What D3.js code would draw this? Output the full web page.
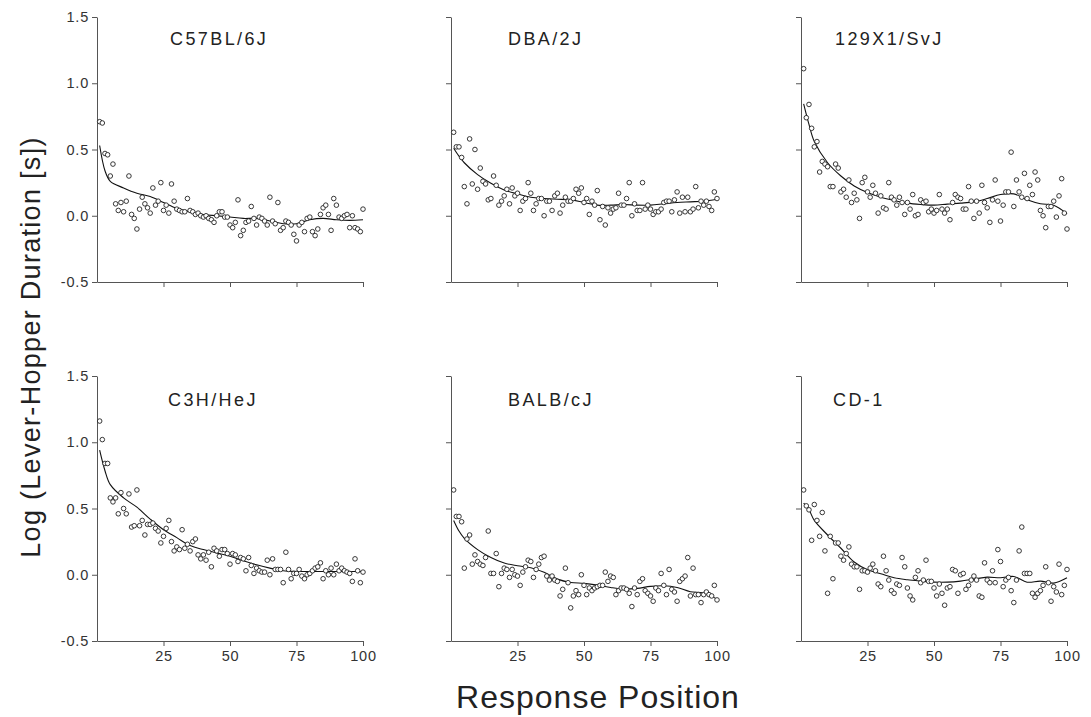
<!DOCTYPE html>
<html>
<head>
<meta charset="utf-8">
<script src="https://cdn.jsdelivr.net/npm/d3@7"></script>
<style>
  body { margin: 0; background: #fff; }
  text { font-family: "Liberation Sans", Arial, sans-serif; }
</style>
</head>
<body>
<div id="chart"></div>
<script>
// strain names, one per panel (row by row)
const strains = ['C57BL/6J', 'DBA/2J', '129X1/SvJ', 'C3H/HeJ', 'BALB/cJ', 'CD-1'];

const yTicks = [-0.5, 0.0, 0.5, 1.0, 1.5];
const xTicks = [25, 50, 75, 100];

// log duration per response position 1..100
const c57 = [0.71,0.70,0.47,0.46,0.30,0.39,0.09,0.04,0.10,0.03, 0.11,0.30,0.01,-0.02,-0.10,0.05,0.14,0.09,0.06,0.02,
  0.21,0.08,0.11,0.25,0.04,0.08,0.02,0.24,0.11,0.05, 0.04,0.03,0.03,0.13,0.04,0.03,0.01,0.02,0.00,-0.01,
  0.00,-0.02,-0.03,-0.05,0.00,0.03,0.03,-0.01,-0.01,-0.07, -0.09,-0.05,0.12,-0.15,-0.11,-0.05,-0.04,0.07,-0.02,-0.07,
  -0.01,-0.02,-0.04,-0.07,0.14,-0.04,-0.06,0.10,-0.11,-0.09, -0.04,-0.05,-0.07,-0.14,-0.19,-0.07,-0.05,-0.12,-0.02,-0.01,
  -0.12,-0.15,-0.10,0.01,0.06,0.08,0.01,-0.11,0.13,0.08, -0.01,-0.02,0.00,0.01,-0.09,0.00,-0.09,-0.10,-0.12,0.05];

const dba = [0.63,0.52,0.52,0.44,0.22,0.09,0.58,0.24,0.50,0.20, 0.36,0.26,0.24,0.12,0.13,0.30,0.23,0.08,0.11,0.15,
  0.20,0.09,0.21,0.15,0.17,0.04,0.11,0.13,0.25,0.17, 0.04,0.09,0.13,0.13,0.00,0.11,0.11,0.04,0.15,0.17,
  0.02,0.08,0.14,0.11,0.11,0.13,0.20,0.17,0.21,0.10, 0.13,0.01,0.11,0.08,0.19,-0.03,0.07,-0.07,0.06,0.02,
  0.05,0.06,0.17,0.08,0.08,0.13,0.25,0.00,0.09,0.04, 0.04,0.25,0.05,0.08,0.05,0.01,0.03,0.03,0.05,0.10,
  0.11,0.11,0.03,0.12,0.18,0.02,0.14,0.03,0.14,0.03, 0.05,0.22,0.06,0.11,0.08,0.11,0.07,0.04,0.18,0.13];

const s129 = [1.11,0.74,0.84,0.66,0.52,0.56,0.33,0.41,0.39,0.37, 0.22,0.22,0.39,0.36,0.18,0.20,0.14,0.27,0.10,0.17,
  0.12,-0.02,0.25,0.29,0.18,0.14,0.23,0.17,0.02,0.15, 0.06,0.05,0.25,0.14,0.12,0.08,0.14,0.10,0.01,0.10,
  0.05,0.16,0.00,0.01,0.12,0.10,0.11,0.03,0.05,0.02, 0.04,0.16,0.05,0.02,0.05,-0.03,0.10,0.16,0.14,0.13,
  0.05,0.05,0.22,0.11,-0.02,0.11,0.02,0.23,0.10,0.06, -0.05,0.12,0.27,0.11,-0.04,0.08,0.18,0.18,0.48,0.07,
  0.27,0.18,0.14,0.32,0.13,0.23,0.16,0.33,0.27,0.04, 0.00,-0.09,0.07,0.07,0.11,-0.01,0.15,0.28,0.02,-0.10];

const c3h = [1.16,1.02,0.84,0.84,0.58,0.55,0.58,0.46,0.62,0.50, 0.46,0.61,0.36,0.37,0.64,0.37,0.41,0.30,0.38,0.38,
  0.39,0.35,0.33,0.24,0.29,0.35,0.41,0.25,0.18,0.21, 0.19,0.34,0.20,0.23,0.18,0.25,0.27,0.15,0.12,0.15,
  0.11,0.17,0.06,0.20,0.18,0.14,0.19,0.19,0.16,0.08, 0.16,0.15,0.10,0.13,0.12,0.03,0.13,0.07,0.01,0.05,
  0.03,0.02,0.02,0.11,0.00,0.12,0.04,0.04,0.04,-0.06, 0.17,0.04,-0.03,0.01,0.01,0.04,-0.01,-0.03,0.00,0.01,
  0.03,0.05,0.06,0.09,-0.03,0.03,0.00,0.05,0.00,0.08, 0.03,0.05,0.03,0.02,0.01,-0.05,0.12,0.03,-0.06,0.02];

const balb = [0.64,0.44,0.44,0.40,0.05,0.27,0.30,0.08,0.15,0.10, 0.08,0.07,0.13,0.33,0.01,0.01,0.16,-0.09,0.01,0.05,
  0.04,-0.02,0.04,0.00,-0.01,-0.08,0.02,0.06,0.11,0.10, -0.02,0.04,0.08,0.13,0.14,-0.01,-0.04,-0.01,-0.04,-0.05,
  -0.16,-0.11,0.05,-0.06,-0.25,-0.16,-0.12,-0.15,0.00,-0.08, -0.15,-0.10,-0.12,-0.10,-0.09,-0.08,-0.08,0.02,-0.05,-0.01,
  -0.02,-0.15,-0.12,-0.10,-0.10,-0.11,-0.14,-0.24,-0.10,-0.15, -0.05,-0.03,-0.12,-0.14,-0.16,-0.20,-0.10,-0.12,0.01,-0.08,
  -0.15,0.04,-0.11,-0.13,-0.20,-0.05,-0.03,-0.01,0.13,-0.16, 0.05,-0.15,-0.15,-0.21,-0.15,-0.13,-0.15,-0.16,-0.08,-0.19];

const cd1 = [0.64,0.52,0.49,0.26,0.53,0.41,0.29,0.47,0.18,-0.14, 0.29,-0.03,0.24,0.24,0.14,0.11,0.16,0.21,0.08,0.06,
  0.06,-0.11,0.03,0.03,0.02,0.05,0.08,0.03,-0.07,-0.09, 0.14,0.03,-0.04,-0.12,-0.14,-0.07,-0.08,0.13,0.06,-0.10,
  -0.16,-0.19,-0.02,0.03,-0.06,-0.04,0.11,-0.05,-0.05,-0.10, -0.16,-0.07,-0.14,-0.23,-0.10,-0.09,0.04,0.03,-0.14,0.00,
  0.01,-0.11,-0.08,-0.04,-0.01,-0.04,-0.16,-0.17,0.09,-0.04, -0.06,0.03,-0.06,0.19,0.10,-0.09,-0.04,-0.02,-0.12,-0.21,
  -0.04,0.18,0.36,0.01,0.01,0.01,-0.14,-0.17,-0.14,-0.12, -0.08,0.06,-0.06,-0.20,-0.09,-0.13,0.08,-0.15,-0.08,0.04];

// fitted curve, read at these positions
const fitX = [1, 3, 5, 10, 15, 20, 25, 30, 35, 40, 45, 50, 55, 60, 65, 70, 75, 80, 85, 90, 95, 100];
const c57Fit  = [0.53,0.34,0.26,0.21,0.17,0.145,0.10,0.055,0.03,0.01,0.0,-0.01,-0.02,-0.02,-0.04,-0.06,-0.06,-0.03,-0.02,-0.03,-0.035,-0.03];
const dbaFit  = [0.51,0.45,0.40,0.31,0.245,0.195,0.165,0.14,0.13,0.125,0.12,0.10,0.08,0.08,0.085,0.08,0.08,0.09,0.10,0.105,0.11,0.125];
const s129Fit = [0.845,0.69,0.56,0.40,0.30,0.225,0.175,0.14,0.115,0.095,0.085,0.08,0.088,0.095,0.105,0.13,0.16,0.165,0.12,0.09,0.08,0.015];
const c3hFit  = [0.94,0.785,0.68,0.58,0.51,0.42,0.34,0.28,0.22,0.19,0.165,0.14,0.105,0.075,0.05,0.03,0.025,0.025,0.025,0.025,0.025,0.025];
const balbFit = [0.41,0.33,0.275,0.19,0.13,0.088,0.068,0.053,0.018,-0.033,-0.058,-0.065,-0.078,-0.096,-0.108,-0.103,-0.088,-0.083,-0.096,-0.128,-0.138,-0.184];
const cd1Fit  = [0.54,0.49,0.41,0.30,0.20,0.096,0.038,0.008,-0.023,-0.038,-0.048,-0.056,-0.056,-0.048,-0.033,-0.018,-0.023,-0.013,-0.056,-0.048,-0.063,-0.023];

const pointSets = [c57, dba, s129, c3h, balb, cd1];
const fitSets = [c57Fit, dbaFit, s129Fit, c3hFit, balbFit, cd1Fit];

const width = 1091;
const height = 717;
const colX = [97, 451, 801];
const rowY = [17, 376];
const panelW = 266;
const panelH = 265;
const titleDx = [73, 57, 34, 71, 57, 32];

const svg = d3.select('#chart').append('svg')
    .attr('width', width)
    .attr('height', height);

svg.append('rect').attr('width', width).attr('height', height).attr('fill', '#fff');

const x = d3.scaleLinear().domain([0, 100]).range([0, panelW]);
const y = d3.scaleLinear().domain([-0.5, 1.5]).range([panelH, 0]);

const line = d3.line()
    .x((d, i) => x(fitX[i]))
    .y(d => y(d))
    .curve(d3.curveCatmullRom);

strains.forEach((name, k) => {
    const col = k % 3;
    const row = Math.floor(k / 3);
    const g = svg.append('g')
        .attr('transform', `translate(${colX[col]}, ${rowY[row]})`);

    const yAxis = d3.axisLeft(y)
        .tickValues(yTicks)
        .tickSize(5)
        .tickSizeOuter(0)
        .tickPadding(3)
        .tickFormat(d => col === 0 ? d.toFixed(1) : '');
    const ya = g.append('g').call(yAxis);

    const xAxis = d3.axisBottom(x)
        .tickValues(xTicks)
        .tickSize(5)
        .tickSizeOuter(0)
        .tickPadding(5)
        .tickFormat(d => row === 1 ? d : '');
    const xa = g.append('g')
        .attr('transform', `translate(0, ${panelH})`)
        .call(xAxis);

    [ya, xa].forEach(a => {
        a.selectAll('path, line').attr('stroke', '#555').attr('stroke-width', 1);
        a.selectAll('text')
            .attr('fill', '#333')
            .style('font-size', '14.5px')
            .style('letter-spacing', '0.8px');
    });

    g.append('path')
        .datum(fitSets[k])
        .attr('d', line)
        .attr('fill', 'none')
        .attr('stroke', '#111')
        .attr('stroke-width', 1.1);

    g.selectAll('.pt')
        .data(pointSets[k])
        .join('circle')
            .attr('class', 'pt')
            .attr('cx', (d, i) => x(i + 1))
            .attr('cy', d => y(d))
            .attr('r', 2.3)
            .attr('fill', '#fff')
            .attr('stroke', '#222')
            .attr('stroke-width', 0.9);

    g.append('text')
        .attr('x', titleDx[k])
        .attr('y', row === 0 ? 28 : 30)
        .attr('fill', '#222')
        .style('font-size', '18px')
        .style('letter-spacing', '2.4px')
        .text(name);
});

svg.append('text')
    .attr('transform', 'translate(40, 347) rotate(-90)')
    .attr('text-anchor', 'middle')
    .attr('fill', '#222')
    .style('font-size', '27px')
    .style('letter-spacing', '1.3px')
    .text('Log (Lever-Hopper Duration [s])');

svg.append('text')
    .attr('x', 598)
    .attr('y', 708)
    .attr('text-anchor', 'middle')
    .attr('fill', '#222')
    .style('font-size', '32px')
    .style('letter-spacing', '1px')
    .text('Response Position');
</script>
</body>
</html>
